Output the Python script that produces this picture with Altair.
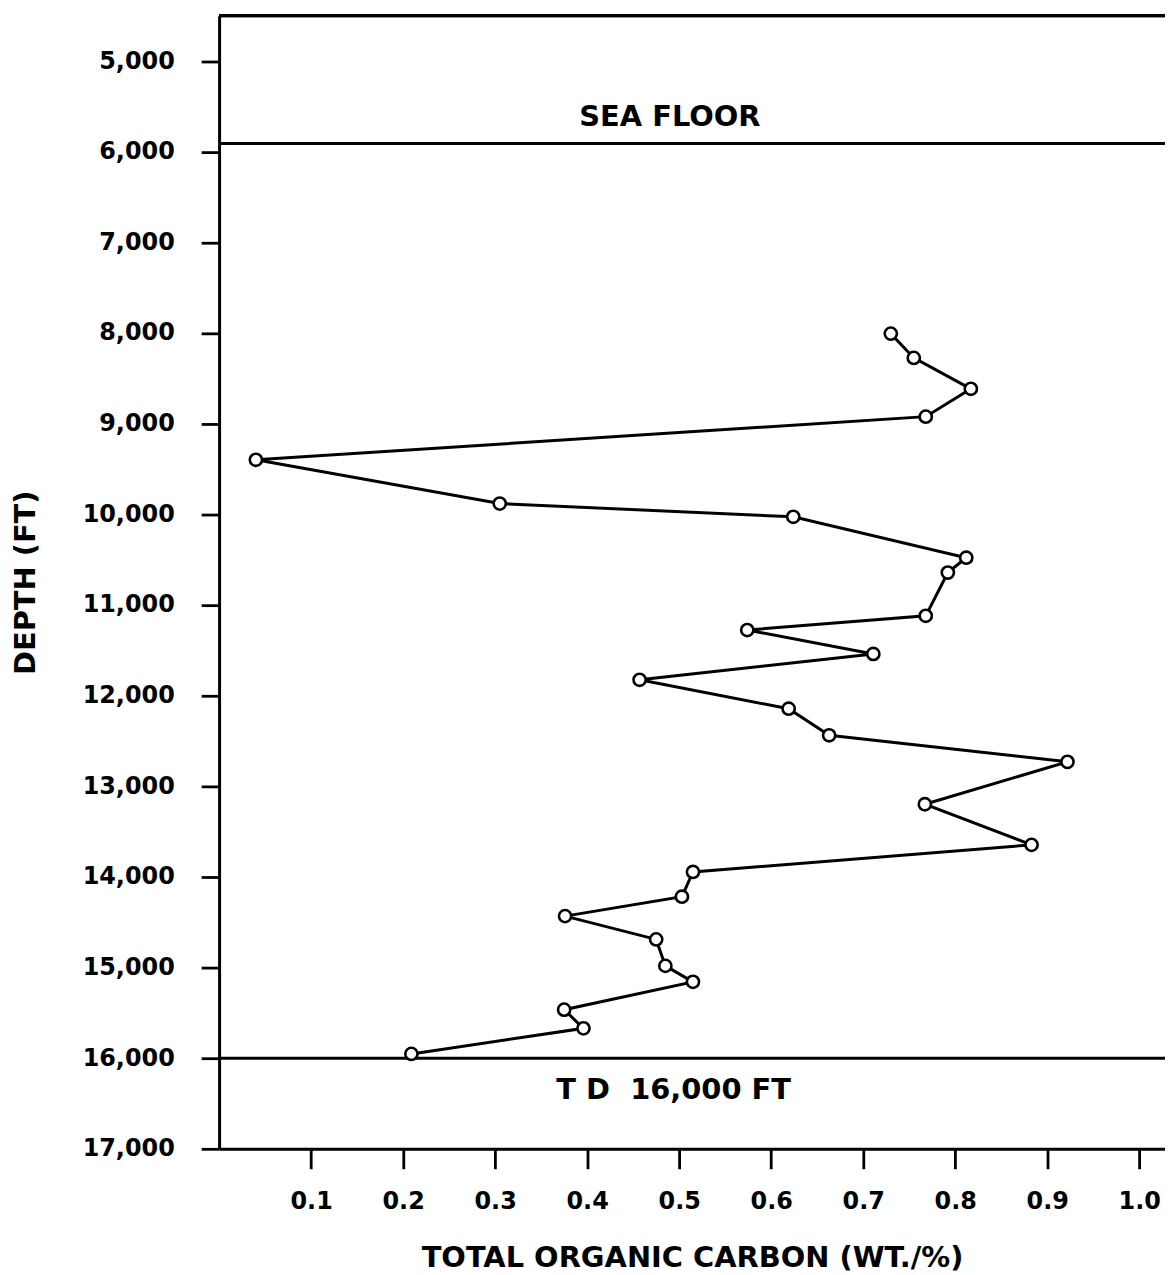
import altair as alt
import pandas as pd

# Values
toc = [0.730, 0.755, 0.817, 0.768, 0.040, 0.305, 0.624, 0.812, 0.792, 0.768,
       0.574, 0.711, 0.457, 0.619, 0.663, 0.922, 0.767, 0.883, 0.515, 0.503,
       0.376, 0.475, 0.485, 0.515, 0.375, 0.396, 0.209]
depth = [8007, 8275, 8616, 8923, 9399, 9882, 10028, 10479, 10643, 11120,
         11277, 11541, 11826, 12145, 12438, 12731, 13199, 13647, 13946, 14219,
         14433, 14690, 14982, 15158, 15465, 15671, 15953]
y_ticks = [5000, 6000, 7000, 8000, 9000, 10000, 11000, 12000, 13000, 14000,
           15000, 16000, 17000]
x_ticks = [0.1, 0.2, 0.3, 0.4, 0.5, 0.6, 0.7, 0.8, 0.9, 1.0]
marker_depths = [5910, 16000]          # sea floor, total depth
notes = ["SEA FLOOR", "T D\u00a0 16,000 FT"]
note_toc = [0.490, 0.494]
note_depth = [5620, 16350]

df = pd.DataFrame({"toc": toc, "depth": depth, "seq": list(range(len(toc)))})
rules_df = pd.DataFrame({"depth": marker_depths})
notes_df = pd.DataFrame({"toc": note_toc, "depth": note_depth, "label": notes})

FONT = "DejaVu Sans"
W, H = 950, 1138

xs = alt.Scale(domain=[0, 1.028], nice=False, zero=False)
ys = alt.Scale(domain=[4500, 17000], reverse=True, nice=False, zero=False)

axis_style = dict(
    grid=False,
    domainColor="black", domainWidth=3,
    tickColor="black", tickWidth=2.8,
    labelFont=FONT, labelFontSize=24, labelFontWeight="bold", labelColor="black",
    titleFont=FONT, titleFontSize=29, titleFontWeight="bold", titleColor="black",
    labelFlush=False, labelOverlap=False, labelBound=False,
)

x_enc = alt.X("toc:Q", scale=xs,
              title="TOTAL ORGANIC CARBON (WT./%)",
              axis=alt.Axis(values=x_ticks, format=".1f", tickSize=20,
                            labelPadding=21, titlePadding=30, **axis_style))
y_enc = alt.Y("depth:Q", scale=ys, title="DEPTH (FT)",
              axis=alt.Axis(values=y_ticks, format=",d", tickSize=18,
                            labelPadding=27, titlePadding=42, **axis_style))

line = alt.Chart(df).mark_line(color="black", strokeWidth=3).encode(
    x=x_enc, y=y_enc, order=alt.Order("seq:Q"))

pts = alt.Chart(df).mark_point(shape="circle", filled=True, fill="white",
                               stroke="black", strokeWidth=2.6, size=150,
                               opacity=1).encode(x=x_enc, y=y_enc)

rules = alt.Chart(rules_df).mark_rule(color="black", strokeWidth=3).encode(
    y=y_enc)

top_border = alt.Chart(rules_df).mark_rule(color="black", strokeWidth=3.2).encode(
    x=alt.value(0), x2=alt.value(W), y=alt.value(0))

texts = alt.Chart(notes_df).mark_text(font=FONT, fontSize=29, fontWeight="bold",
                                      color="black", align="center",
                                      baseline="middle").encode(
    x=x_enc, y=y_enc, text="label:N")

chart = alt.layer(rules, top_border, line, pts, texts).properties(
    width=W, height=H,
    background="white",
    autosize=alt.AutoSizeParams(type="none"),
    padding={"left": 212, "top": 5, "right": 0, "bottom": 128},
).configure_view(stroke=None).configure_axis(**axis_style)

chart.save("out.html", embed_options={"renderer": "svg", "actions": False})
